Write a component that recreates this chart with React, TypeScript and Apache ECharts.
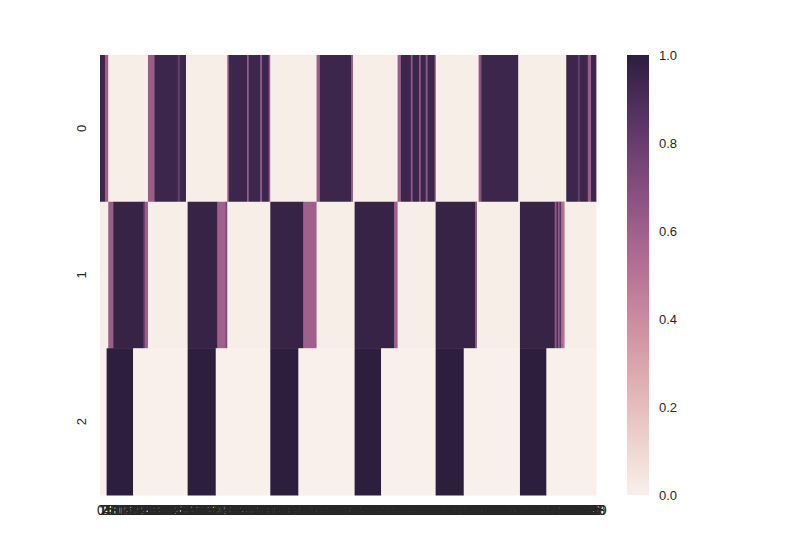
import React, { useEffect, useRef } from "react";
import * as echarts from "echarts";

// Column tick labels (0..299) and row labels
const columnLabels: string[] = Array.from({ length: 300 }, (_, i) => String(i));
const rowLabels: string[] = ["0", "1", "2"];

// Row values, as runs of [count, value]
const row0Runs: [number, number][] = [
  [3, 0.95], [2, 0.62], [24, 0.01], [4, 0.62], [14, 0.95], [1, 0.8], [4, 0.95],
  [25, 0.01], [1, 0.65], [11, 0.95], [1, 0.65], [7, 0.95], [1, 0.65], [4, 0.95], [1, 0.65],
  [28, 0.01], [2, 0.62], [19, 0.95], [1, 0.65],
  [27, 0.01], [2, 0.62], [6, 0.95], [1, 0.65], [4, 0.95], [1, 0.65], [3, 0.95], [1, 0.65], [4, 0.95], [1, 0.8],
  [26, 0.01], [1, 0.65], [1, 0.8], [22, 0.95],
  [29, 0.01], [7, 0.95], [1, 0.8], [5, 0.95], [2, 0.62], [3, 0.95],
];
const row1Runs: [number, number][] = [
  [5, 0.01], [3, 0.62], [18, 0.97], [1, 0.85], [2, 0.62],
  [24, 0.01], [18, 0.97], [5, 0.6], [1, 0.75],
  [26, 0.01], [20, 0.97], [8, 0.6],
  [23, 0.01], [24, 0.97], [2, 0.6],
  [23, 0.01], [24, 0.97], [1, 0.65],
  [26, 0.01], [21, 0.97], [1, 0.65], [1, 0.9], [1, 0.65], [1, 0.85], [1, 0.55], [1, 0.5],
  [19, 0.01],
];
const row2Runs: [number, number][] = [
  [4, 0], [16, 1], [33, 0], [17, 1], [33, 0], [17, 1], [34, 0], [16, 1],
  [33, 0], [17, 1], [34, 0], [16, 1], [30, 0],
];

// Colour bar ticks
const colorbarTicks: number[] = [0, 0.2, 0.4, 0.6, 0.8, 1.0];

// cubehelix (light=.95) colour stops, light -> dark
const paletteStops: string[] = [
  "#f9f0eb", "#f0d7d1", "#e6bdbc", "#daa4ac", "#cb8ba0", "#b87496",
  "#a0608b", "#854d7e", "#683d6e", "#4a2d59", "#2d1e3e",
];

const allRuns: [number, number][][] = [row0Runs, row1Runs, row2Runs];

export default function App() {
  const ref = useRef<HTMLDivElement>(null);

  useEffect(() => {
    if (!ref.current) return;
    const chart = echarts.init(ref.current, undefined, { renderer: "svg" });

    // [startColumn, count, row, value] — one block per run of equal cells
    const blockData: [number, number, number, number][] = [];
    allRuns.forEach((runs, r) => {
      let start = 0;
      runs.forEach(([count, value]) => {
        blockData.push([start, count, r, value]);
        start += count;
      });
    });

    const font = "'Liberation Sans', Arial, sans-serif";
    const textColor = "#262626";

    chart.setOption({
      animation: false,
      backgroundColor: "#ffffff",
      grid: [
        { left: 100, top: 55, width: 496, height: 440 },
        { left: 627, top: 55, width: 22, height: 440 },
      ],
      xAxis: [
        {
          type: "category",
          gridIndex: 0,
          data: columnLabels,
          axisLine: { show: false },
          axisTick: { show: false },
          splitLine: { show: false },
          axisLabel: {
            interval: 0,
            fontSize: 14,
            color: textColor,
            fontFamily: font,
            margin: 8,
            hideOverlap: false,
          },
        },
        { type: "category", gridIndex: 1, data: ["c"], show: false },
      ],
      yAxis: [
        {
          type: "category",
          gridIndex: 0,
          data: rowLabels,
          inverse: true,
          axisLine: { show: false },
          axisTick: { show: false },
          splitLine: { show: false },
          axisLabel: {
            rotate: 90,
            fontSize: 13,
            color: textColor,
            fontFamily: font,
            margin: 12,
          },
        },
        {
          type: "value",
          gridIndex: 1,
          position: "right",
          min: 0,
          max: 1,
          interval: 0.2,
          axisLine: { show: false },
          axisTick: { show: false },
          splitLine: { show: false },
          axisLabel: {
            fontSize: 13,
            color: textColor,
            fontFamily: font,
            margin: 10,
            formatter: (v: number) =>
              colorbarTicks.some((t) => Math.abs(t - v) < 1e-9) ? v.toFixed(1) : "",
          },
        },
      ],
      visualMap: {
        show: false,
        seriesIndex: 0,
        dimension: 3,
        min: 0,
        max: 1,
        inRange: { color: paletteStops },
      },
      series: [
        {
          type: "custom",
          xAxisIndex: 0,
          yAxisIndex: 0,
          data: blockData,
          encode: { x: 0, y: 2 },
          silent: true,
          renderItem: (params: any, api: any) => {
            const start = api.value(0);
            const count = api.value(1);
            const center = api.coord([start, api.value(2)]);
            const size = api.size([1, 1]);
            const w = size[0];
            const h = size[1];
            return {
              type: "rect",
              shape: {
                x: center[0] - w / 2,
                y: center[1] - h / 2,
                width: w * count + 0.4,
                height: h + 0.4,
              },
              style: { fill: api.visual("color"), stroke: null },
            };
          },
        },
        {
          type: "bar",
          xAxisIndex: 1,
          yAxisIndex: 1,
          data: [1],
          barWidth: "100%",
          silent: true,
          itemStyle: {
            color: new echarts.graphic.LinearGradient(
              0, 0, 0, 1,
              paletteStops
                .slice()
                .reverse()
                .map((c, i, arr) => ({ offset: i / (arr.length - 1), color: c }))
            ),
          },
        },
      ],
    });

    return () => chart.dispose();
  }, []);

  return (
    <div
      ref={ref}
      style={{ position: "fixed", left: 0, top: 0, width: 800, height: 550 }}
    />
  );
}
